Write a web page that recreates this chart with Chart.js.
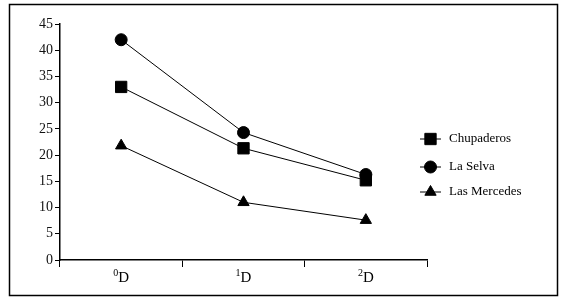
<!DOCTYPE html>
<html>
<head>
<meta charset="utf-8">
<script src="https://cdn.jsdelivr.net/npm/chart.js@4/dist/chart.umd.min.js"></script>
<style>
  html, body { margin: 0; padding: 0; background: #fff; }
  #wrap { width: 570px; height: 306px; position: relative; }
  .preload { font-family: 'Liberation Serif'; position: absolute; left: -999px; top: 0; }
</style>
</head>
<body>
<span class="preload">0123 Chupaderos</span>
<div id="wrap"><canvas id="chart"></canvas></div>
<script>
// ---- data ----
const powers = ['0', '1', '2']
const categories = ['0D', '1D', '2D']
const chupaderos = [33, 21.3, 15.2]
const laSelva = [42, 24.3, 16.3]
const lasMercedes = [21.8, 11, 7.6]
const yTicks = [0, 5, 10, 15, 20, 25, 30, 35, 40, 45]

const serif = '"Liberation Serif", "Times New Roman", serif'

// outer frame round the whole figure
const framePlugin = {
  id: 'frame',
  afterDraw(chart) {
    const ctx = chart.ctx
    ctx.save()
    ctx.strokeStyle = '#000'
    ctx.lineWidth = 1.5
    ctx.strokeRect(9.5, 4.5, 548, 291)
    ctx.restore()
  },
}

// category labels with the raised index (0D, 1D, 2D)
const xLabelPlugin = {
  id: 'xLabels',
  afterDraw(chart) {
    const ctx = chart.ctx
    const xs = chart.scales.x
    ctx.save()
    ctx.fillStyle = '#000'
    ctx.textBaseline = 'alphabetic'
    ctx.textAlign = 'left'
    powers.forEach((p, i) => {
      const cx = xs.getPixelForValue(i)
      ctx.font = '10px ' + serif
      const pw = ctx.measureText(p).width
      ctx.font = '15px ' + serif
      const dw = ctx.measureText('D').width
      const x0 = cx - (pw + dw) / 2
      ctx.font = '10px ' + serif
      ctx.fillText(p, x0, 276)
      ctx.font = '15px ' + serif
      ctx.fillText('D', x0 + pw, 282)
    })
    ctx.restore()
  },
}

// legend with a short line through each marker, like the original
const legendPlugin = {
  id: 'lineLegend',
  afterDraw(chart) {
    const ctx = chart.ctx
    const rows = [139, 167, 192]
    ctx.save()
    chart.data.datasets.forEach((ds, i) => {
      const y = rows[i]
      ctx.strokeStyle = '#000'
      ctx.lineWidth = 1
      ctx.beginPath()
      ctx.moveTo(420, y)
      ctx.lineTo(441, y)
      ctx.stroke()
      ctx.fillStyle = '#000'
      Chart.helpers.drawPoint(ctx, {
        pointStyle: ds.pointStyle,
        radius: ds.pointRadius,
        borderWidth: 1,
      }, 430.5, y)
      ctx.fillStyle = '#000'
      ctx.font = '13px ' + serif
      ctx.textBaseline = 'middle'
      ctx.textAlign = 'left'
      ctx.fillText(ds.label, 449, y)
    })
    ctx.restore()
  },
}

function series(label, data, style, radius) {
  return {
    label: label,
    data: data,
    borderColor: '#000',
    backgroundColor: '#000',
    borderWidth: 1,
    pointStyle: style,
    pointRadius: radius,
    pointHoverRadius: radius,
    pointBackgroundColor: '#000',
    pointBorderColor: '#000',
    tension: 0,
  }
}

function draw() {
  new Chart(document.getElementById('chart'), {
    type: 'line',
    data: {
      labels: categories,
      datasets: [
        series('Chupaderos', chupaderos, 'rect', 8),
        series('La Selva', laSelva, 'circle', 6),
        series('Las Mercedes', lasMercedes, 'triangle', 6.5),
      ],
    },
    options: {
      responsive: true,
      maintainAspectRatio: false,
      animation: false,
      events: [],
      layout: { padding: { top: 24, right: 143, bottom: 0, left: 0 } },
      plugins: {
        legend: { display: false },
        tooltip: { enabled: false },
      },
      scales: {
        x: {
          offset: true,
          grid: {
            offset: true,
            drawOnChartArea: false,
            drawTicks: true,
            tickLength: 7,
            color: '#000',
          },
          border: { color: '#000', width: 1.5 },
          ticks: { display: false },
          afterFit(scale) { scale.height = 46 },
        },
        y: {
          min: 0,
          max: 45,
          afterBuildTicks(scale) { scale.ticks = yTicks.map(v => ({ value: v })) },
          grid: {
            drawOnChartArea: false,
            drawTicks: true,
            tickLength: 5,
            color: '#000',
          },
          border: { color: '#000', width: 1.5 },
          ticks: {
            color: '#111',
            padding: 2,
            font: { family: serif, size: 14 },
          },
          afterFit(scale) { scale.width = 60 },
        },
      },
    },
    plugins: [framePlugin, xLabelPlugin, legendPlugin],
  })
}

document.fonts.load('14px "Liberation Serif"').then(draw, draw)
</script>
</body>
</html>
